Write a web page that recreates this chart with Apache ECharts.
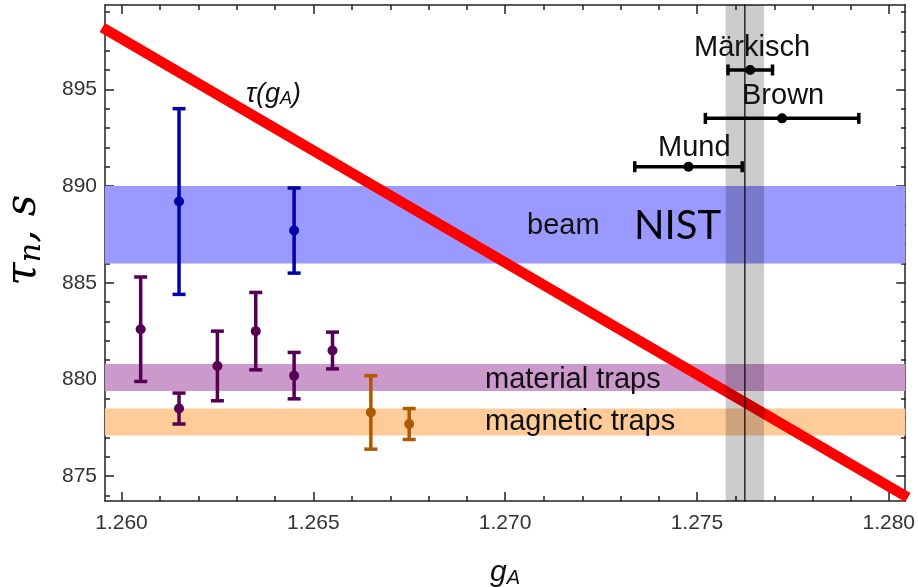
<!DOCTYPE html>
<html>
<head>
<meta charset="utf-8">
<script src="https://cdn.jsdelivr.net/npm/echarts@6/dist/echarts.min.js"></script>
<style>
  html, body { margin: 0; padding: 0; background: #fff; }
  #chart { width: 918px; height: 587px; }
</style>
</head>
<body>
<div id="chart"></div>
<script>
// axis ticks
var xMajor = [1.260, 1.265, 1.270, 1.275, 1.280];
var xMinor = [1.261, 1.262, 1.263, 1.264, 1.266, 1.267, 1.268, 1.269,
              1.271, 1.272, 1.273, 1.274, 1.276, 1.277, 1.278, 1.279];
var yMajor = [875, 880, 885, 890, 895];
var yMinor = [874, 876, 877, 878, 879, 881, 882, 883, 884, 886, 887, 888, 889,
              891, 892, 893, 894, 896, 897, 898, 899];

// lifetime measurements (tau_n, s)
var beamX = [1.2615, 1.2645];
var beamTau = [889.2, 887.7];
var beamErr = [4.8, 2.2];

var materialX = [1.2605, 1.2615, 1.2625, 1.2635, 1.2645, 1.2655];
var materialTau = [882.6, 878.5, 880.7, 882.5, 880.2, 881.5];
var materialErr = [2.7, 0.8, 1.8, 2.0, 1.2, 0.95];

var magneticX = [1.2665, 1.2675];
var magneticTau = [878.3, 877.7];
var magneticErr = [1.9, 0.8];

// g_A measurements
var gaNames = ['Märkisch', 'Brown', 'Mund'];
var gaValue = [1.27639, 1.27722, 1.27478];
var gaErr = [0.00058, 0.002, 0.0014];
var gaTau = [896.0, 893.5, 891.0];

// bands
var beamBand = [886, 890];
var materialBand = [879.4, 880.8];
var magneticBand = [877.1, 878.5];
var gaBand = [1.27575, 1.27675];
var gaMean = 1.27625;

// tau(g_A) line
var tauLine = [[1.2595, 898.2], [1.2805, 873.9]];

var xMin = 1.25957, xMax = 1.28043, yMin = 873.72, yMax = 899.36;

var myChart = echarts.init(document.getElementById('chart'));

function zip3(a, b, c) {
  return a.map(function (v, i) { return [v, b[i], c[i]]; });
}

function vErr(color) {
  return function (params, api) {
    var x = api.value(0), y = api.value(1), e = api.value(2);
    var c = api.coord([x, y]), lo = api.coord([x, y - e]), hi = api.coord([x, y + e]);
    var st = { stroke: color, lineWidth: 3.5 };
    return {
      type: 'group',
      children: [
        { type: 'line', shape: { x1: c[0], y1: hi[1], x2: c[0], y2: lo[1] }, style: st },
        { type: 'line', shape: { x1: c[0] - 6.5, y1: hi[1], x2: c[0] + 6.5, y2: hi[1] }, style: st },
        { type: 'line', shape: { x1: c[0] - 6.5, y1: lo[1], x2: c[0] + 6.5, y2: lo[1] }, style: st },
        { type: 'circle', shape: { cx: c[0], cy: c[1], r: 5 }, style: { fill: color } }
      ]
    };
  };
}

function hErr(params, api) {
  var x = api.value(0), y = api.value(1), e = api.value(2);
  var c = api.coord([x, y]), l = api.coord([x - e, y]), r = api.coord([x + e, y]);
  var st = { stroke: '#000', lineWidth: 3.5 };
  return {
    type: 'group',
    children: [
      { type: 'line', shape: { x1: l[0], y1: c[1], x2: r[0], y2: c[1] }, style: st },
      { type: 'line', shape: { x1: l[0], y1: c[1] - 5.5, x2: l[0], y2: c[1] + 5.5 }, style: st },
      { type: 'line', shape: { x1: r[0], y1: c[1] - 5.5, x2: r[0], y2: c[1] + 5.5 }, style: st },
      { type: 'circle', shape: { cx: c[0], cy: c[1], r: 5 }, style: { fill: '#000' } }
    ]
  };
}

function hBand(color) {
  return function (params, api) {
    var cs = params.coordSys;
    var top = api.coord([xMin, api.value(1)])[1];
    var bot = api.coord([xMin, api.value(0)])[1];
    return { type: 'rect', shape: { x: cs.x, y: top, width: cs.width, height: bot - top }, style: { fill: color } };
  };
}

function vBand(params, api) {
  var cs = params.coordSys;
  var l = api.coord([api.value(0), yMin])[0];
  var r = api.coord([api.value(1), yMin])[0];
  return { type: 'rect', shape: { x: l, y: cs.y, width: r - l, height: cs.height }, style: { fill: 'rgba(0,0,0,0.2)' } };
}

var frameLine = { show: true, onZero: false, lineStyle: { color: '#222', width: 1.5 } };
var labelFont = { fontFamily: 'Liberation Sans', fontSize: 21, color: '#333' };

function xAx(grid, pos, ticks, len, labels) {
  return {
    type: 'value', gridIndex: grid, position: pos, min: xMin, max: xMax,
    axisLine: grid === 0 ? frameLine : { show: false },
    axisTick: { show: true, inside: true, length: len, customValues: ticks, lineStyle: { color: '#222', width: 1.5 } },
    axisLabel: labels ? Object.assign({ show: true, margin: 12, customValues: xMajor,
      formatter: function (v) { return v.toFixed(3); } }, labelFont) : { show: false },
    splitLine: { show: false }
  };
}
function yAx(grid, pos, ticks, len, labels) {
  return {
    type: 'value', gridIndex: grid, position: pos, min: yMin, max: yMax,
    axisLine: grid === 0 ? frameLine : { show: false },
    axisTick: { show: true, inside: true, length: len, customValues: ticks, lineStyle: { color: '#222', width: 1.5 } },
    axisLabel: labels ? Object.assign({ show: true, margin: 8, customValues: yMajor }, labelFont) : { show: false },
    splitLine: { show: false }
  };
}

var textColor = '#111';
var annFont = '29px "Liberation Sans"';

var option = {
  animation: false,
  backgroundColor: '#fff',
  grid: [
    { left: 105, right: 12, top: 5, bottom: 86 },
    { left: 105, right: 12, top: 5, bottom: 86 }
  ],
  xAxis: [
    xAx(0, 'bottom', xMajor, 9, true),
    xAx(0, 'top', xMajor, 9, false),
    xAx(1, 'bottom', xMinor, 5, false),
    xAx(1, 'top', xMinor, 5, false)
  ],
  yAxis: [
    yAx(0, 'left', yMajor, 9, true),
    yAx(0, 'right', yMajor, 9, false),
    yAx(1, 'left', yMinor, 5, false),
    yAx(1, 'right', yMinor, 5, false)
  ],
  series: [
    { type: 'custom', z: 1, renderItem: hBand('#9999ff'), data: [beamBand], clip: true },
    { type: 'custom', z: 1, renderItem: hBand('#cc99cc'), data: [materialBand], clip: true },
    { type: 'custom', z: 1, renderItem: hBand('#ffcc99'), data: [magneticBand], clip: true },
    {
      type: 'line', z: 2, data: tauLine, symbol: 'none', clip: true, silent: true,
      lineStyle: { color: '#ff0000', width: 10.5, cap: 'butt' }
    },
    { type: 'custom', z: 3, renderItem: vBand, data: [gaBand], clip: true },
    { type: 'custom', z: 4, renderItem: vErr('#0000aa'), data: zip3(beamX, beamTau, beamErr) },
    { type: 'custom', z: 4, renderItem: vErr('#550055'), data: zip3(materialX, materialTau, materialErr) },
    { type: 'custom', z: 4, renderItem: vErr('#b05800'), data: zip3(magneticX, magneticTau, magneticErr) },
    { type: 'custom', z: 4, renderItem: hErr, data: zip3(gaValue, gaTau, gaErr) },
    {
      type: 'line', z: 5, data: [[gaMean, yMin - 5], [gaMean, yMax + 5]], symbol: 'none', clip: true,
      lineStyle: { color: '#000', width: 1.2 }
    }
  ],
  graphic: [
    {
      type: 'text', x: 24, y: 240, rotation: Math.PI / 2, z: 10,
      style: {
        text: '{t|τ}{n|n}{t|, s}', align: 'center', verticalAlign: 'middle',
        rich: {
          t: { fontFamily: 'DejaVu Serif', fontStyle: 'italic', fontSize: 42, fill: '#000' },
          n: { fontFamily: 'DejaVu Serif', fontStyle: 'italic', fontSize: 30, fill: '#000', padding: [16, 0, 0, 0] }
        }
      }
    },
    {
      type: 'text', x: 505, y: 573, z: 10,
      style: {
        text: '{g|g}{a|A}', align: 'center', verticalAlign: 'middle',
        rich: {
          g: { fontFamily: 'Liberation Sans', fontStyle: 'italic', fontSize: 30, fill: '#111' },
          a: { fontFamily: 'Liberation Sans', fontStyle: 'italic', fontSize: 20, fill: '#111', padding: [10, 0, 0, 0] }
        }
      }
    },
    {
      type: 'text', x: 246, y: 94, z: 10,
      style: {
        text: '{t|τ(g}{a|A}{t|)}', align: 'left', verticalAlign: 'middle',
        rich: {
          t: { fontFamily: 'Liberation Sans', fontStyle: 'italic', fontSize: 27, fill: '#111' },
          a: { fontFamily: 'Liberation Sans', fontStyle: 'italic', fontSize: 18, fill: '#111', padding: [9, 0, 0, 0] }
        }
      }
    },
    { type: 'text', x: 527, y: 226, z: 10, style: { text: 'beam', font: annFont, fill: textColor, align: 'left', verticalAlign: 'middle' } },
    { type: 'text', x: 634, y: 226, z: 10, style: { text: 'NIST', font: '40px Lato', fill: '#000', align: 'left', verticalAlign: 'middle' } },
    { type: 'text', x: 752, y: 48, z: 10, style: { text: gaNames[0], font: annFont, fill: textColor, align: 'center', verticalAlign: 'middle' } },
    { type: 'text', x: 742, y: 96, z: 10, style: { text: gaNames[1], font: annFont, fill: textColor, align: 'left', verticalAlign: 'middle' } },
    { type: 'text', x: 658, y: 148, z: 10, style: { text: gaNames[2], font: annFont, fill: textColor, align: 'left', verticalAlign: 'middle' } },
    { type: 'text', x: 485, y: 380, z: 10, style: { text: 'material traps', font: annFont, fill: textColor, align: 'left', verticalAlign: 'middle' } },
    { type: 'text', x: 485, y: 422, z: 10, style: { text: 'magnetic traps', font: annFont, fill: textColor, align: 'left', verticalAlign: 'middle' } }
  ]
};

myChart.setOption(option);
</script>
</body>
</html>
